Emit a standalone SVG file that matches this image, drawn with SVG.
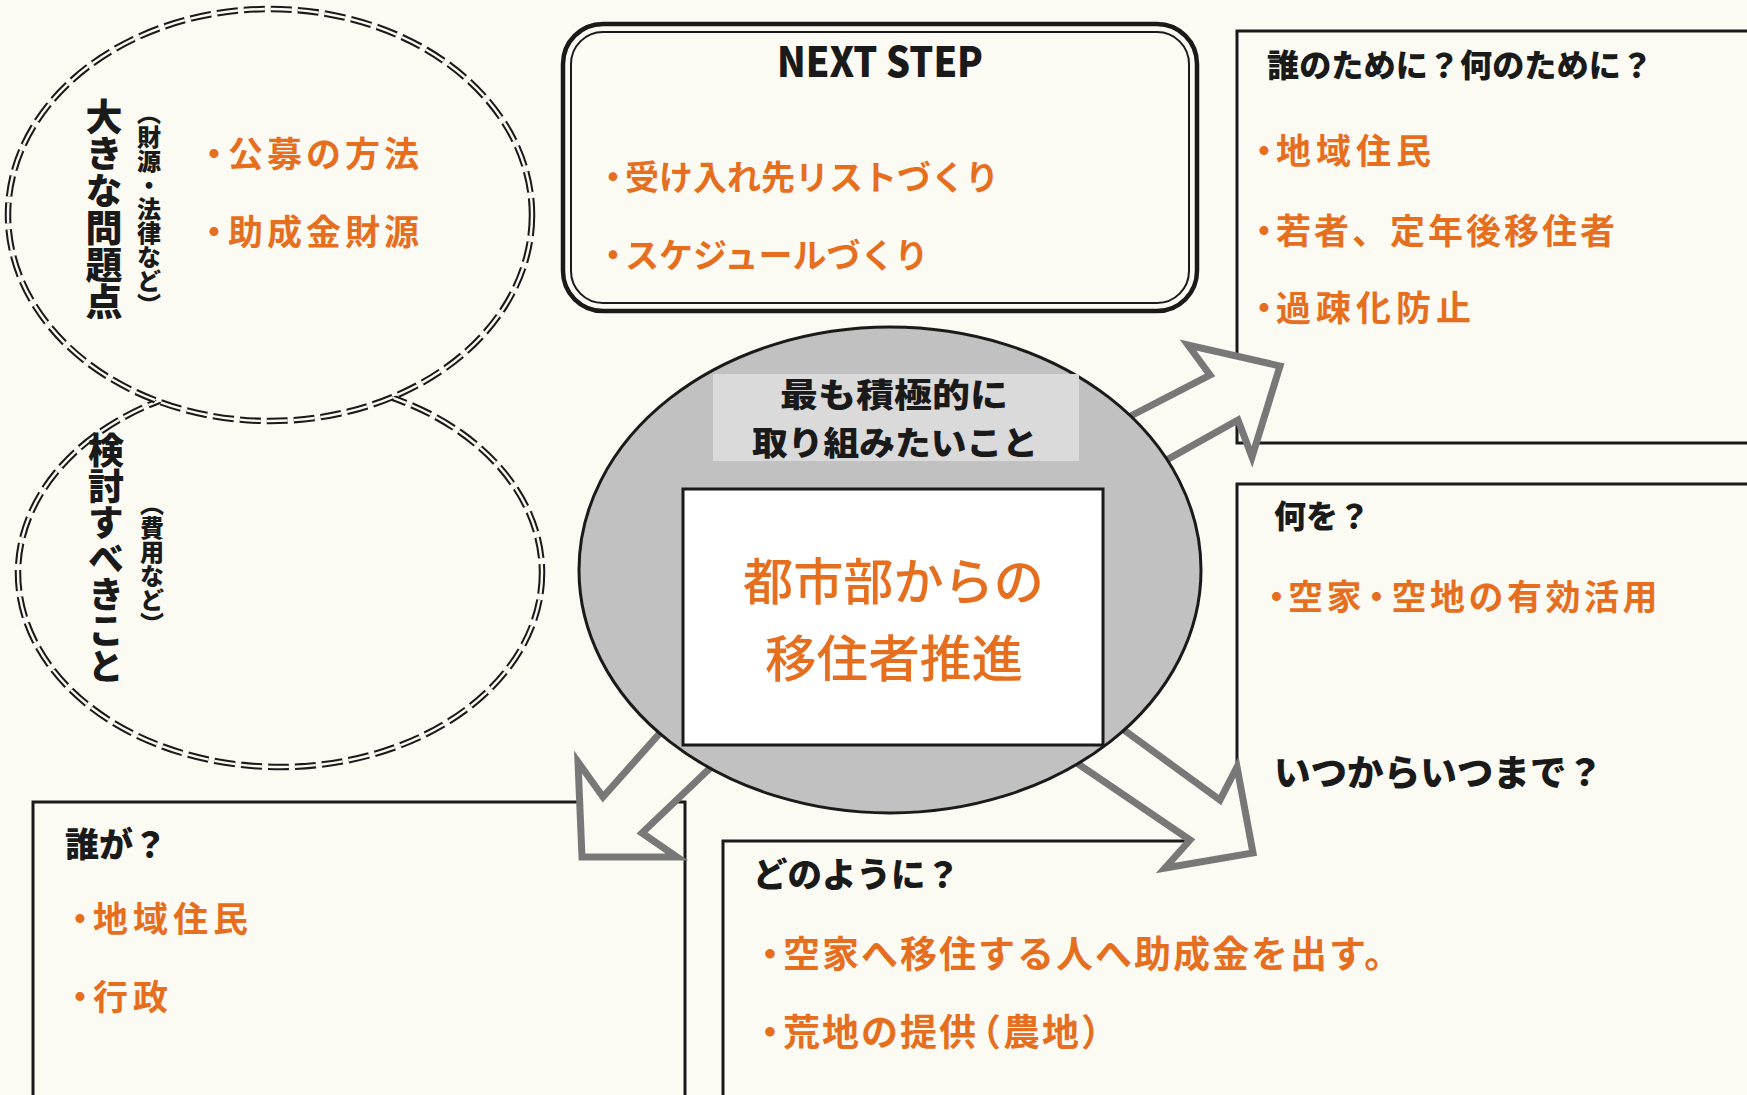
<svg xmlns="http://www.w3.org/2000/svg" width="1747" height="1095" viewBox="0 0 1747 1095">
<defs>
<style>
.bg{fill:#fbfbf3}
.dash-o{fill:#fbfbf3;stroke:#1a1a1a;stroke-width:6.5;stroke-dasharray:21 6}
.dash-i{fill:none;stroke:#fbfbf3;stroke-width:2.4;stroke-dasharray:21 6}
.box{fill:none;stroke:#1a1a1a;stroke-width:3}
.arrow{fill:#fbfbf3;stroke:#787878;stroke-width:7;stroke-linejoin:miter}
.h{font-family:"Noto Sans CJK JP","Noto Sans CJK SC",sans-serif;font-weight:900;fill:#1a1a1a}
.o{font-family:"Noto Sans CJK JP","Noto Sans CJK SC",sans-serif;font-weight:700;fill:#e66f1f}
.v{writing-mode:vertical-rl}
</style>
</defs>
<rect class="bg" x="0" y="0" width="1747" height="1095"/>

<g id="node-kentou">
<ellipse class="dash-o" cx="280" cy="573" rx="262" ry="194"/>
<ellipse class="dash-i" cx="280" cy="573" rx="262" ry="194"/>
<text class="h v" x="106" y="432" font-size="36">検討すべきこと</text>
<text class="h v" x="152" y="492" font-size="24">（費用など）</text>
</g>

<g id="node-mondai">
<ellipse class="dash-o" cx="270" cy="215" rx="262" ry="206"/>
<ellipse class="dash-i" cx="270" cy="215" rx="262" ry="206"/>
<text class="h v" x="104" y="98" font-size="37">大きな問題点</text>
<text class="h v" x="149" y="101" font-size="24">（財源・法律など）</text>
<text class="o" x="196.5" y="167" font-size="35" letter-spacing="4"><tspan letter-spacing="-3.5">・</tspan>公募の方法</text>
<text class="o" x="196.5" y="245" font-size="35" letter-spacing="4"><tspan letter-spacing="-3.5">・</tspan>助成金財源</text>
</g>

<g id="node-nextstep">
<rect x="563" y="24" width="634" height="287" rx="40" fill="#fbfbf3" stroke="#1a1a1a" stroke-width="4.5"/>
<rect x="571" y="32" width="618" height="271" rx="32" fill="none" stroke="#1a1a1a" stroke-width="2"/>
<text class="h" x="777" y="77" font-size="41" textLength="206" lengthAdjust="spacingAndGlyphs">NEXT STEP</text>
<text class="o" x="596" y="190" font-size="34"><tspan letter-spacing="-5">・</tspan>受け入れ先リストづくり</text>
<text class="o" x="596" y="268" font-size="34"><tspan letter-spacing="-5">・</tspan>スケジュールづくり</text>
</g>

<g id="node-tamenimo">
<path class="box" d="M1750 31 H1237 V443 H1750"/>
<text class="h" x="1267" y="77" font-size="32" textLength="386" lengthAdjust="spacingAndGlyphs">誰のために？何のために？</text>
<text class="o" x="1246.5" y="164" font-size="35" letter-spacing="5"><tspan letter-spacing="-5.5">・</tspan>地域住民</text>
<text class="o" x="1246.5" y="244" font-size="35" letter-spacing="3"><tspan letter-spacing="-5.5">・</tspan>若者、定年後移住者</text>
<text class="o" x="1246.5" y="321" font-size="35" letter-spacing="5"><tspan letter-spacing="-5.5">・</tspan>過疎化防止</text>
</g>

<g id="node-naniwo">
<path class="box" d="M1750 484 H1237 V800"/>
<text class="h" x="1274" y="528" font-size="32" textLength="96" lengthAdjust="spacingAndGlyphs">何を？</text>
<text class="o" x="1259" y="610" font-size="35" letter-spacing="3.5"><tspan letter-spacing="-6">・</tspan>空<tspan letter-spacing="-2.5">家・</tspan>空地の有効活用</text>
<text class="h" x="1274" y="786" font-size="36" textLength="329" lengthAdjust="spacingAndGlyphs">いつからいつまで？</text>
</g>

<g id="node-donoyouni">
<path class="box" d="M723 1100 V841 H1200"/>
<text class="h" x="753" y="887" font-size="34" textLength="207" lengthAdjust="spacingAndGlyphs">どのように？</text>
<text class="o" x="751.5" y="968" font-size="37" letter-spacing="2"><tspan letter-spacing="-5.5">・</tspan>空家へ移住する人へ助成金を出す。</text>
<text class="o" x="751.5" y="1046" font-size="37" letter-spacing="2"><tspan letter-spacing="-5.5">・</tspan>荒地の提<tspan letter-spacing="-12">供</tspan>（農地）</text>
</g>

<g id="node-darega">
<path class="box" d="M33 1100 V802 H685 V1100"/>
<text class="h" x="65" y="857" font-size="34" textLength="102" lengthAdjust="spacingAndGlyphs">誰が？</text>
<text class="o" x="62.5" y="932" font-size="35" letter-spacing="5"><tspan letter-spacing="-4.5">・</tspan>地域住民</text>
<text class="o" x="62.5" y="1010" font-size="35" letter-spacing="5"><tspan letter-spacing="-4.5">・</tspan>行政</text>
</g>

<g id="connectors">
<polygon class="arrow" points="1090,437 1210,375 1188,345 1280,366 1252,457 1238,420 1120,486"/>
<polygon class="arrow" points="700,688 603,797 578,762 582,857 677,857 642,833 750,730"/>
<polygon class="arrow" points="1080,698 1220,800 1237,767 1253,853 1165,868 1190,840 1040,738"/>
</g>

<g id="node-center">
<ellipse cx="890" cy="570" rx="311" ry="243" fill="#c1c1c1" stroke="#1a1a1a" stroke-width="3"/>
<rect x="713" y="374" width="366" height="87" fill="#dadada"/>
<text class="h" x="780" y="407" font-size="33" textLength="228" lengthAdjust="spacingAndGlyphs">最も積極的に</text>
<text class="h" x="752" y="455" font-size="33" textLength="286" lengthAdjust="spacingAndGlyphs">取り組みたいこと</text>
<rect x="683" y="489" width="420" height="256" fill="#ffffff" stroke="#1a1a1a" stroke-width="3"/>
<text x="743" y="600" font-family="'Noto Sans CJK JP','Noto Sans CJK SC',sans-serif" font-weight="500" font-size="50" fill="#e66f1f" textLength="301" lengthAdjust="spacingAndGlyphs">都市部からの</text>
<text x="765" y="677" font-family="'Noto Sans CJK JP','Noto Sans CJK SC',sans-serif" font-weight="500" font-size="50" fill="#e66f1f" textLength="258" lengthAdjust="spacingAndGlyphs">移住者推進</text>
</g>
</svg>
